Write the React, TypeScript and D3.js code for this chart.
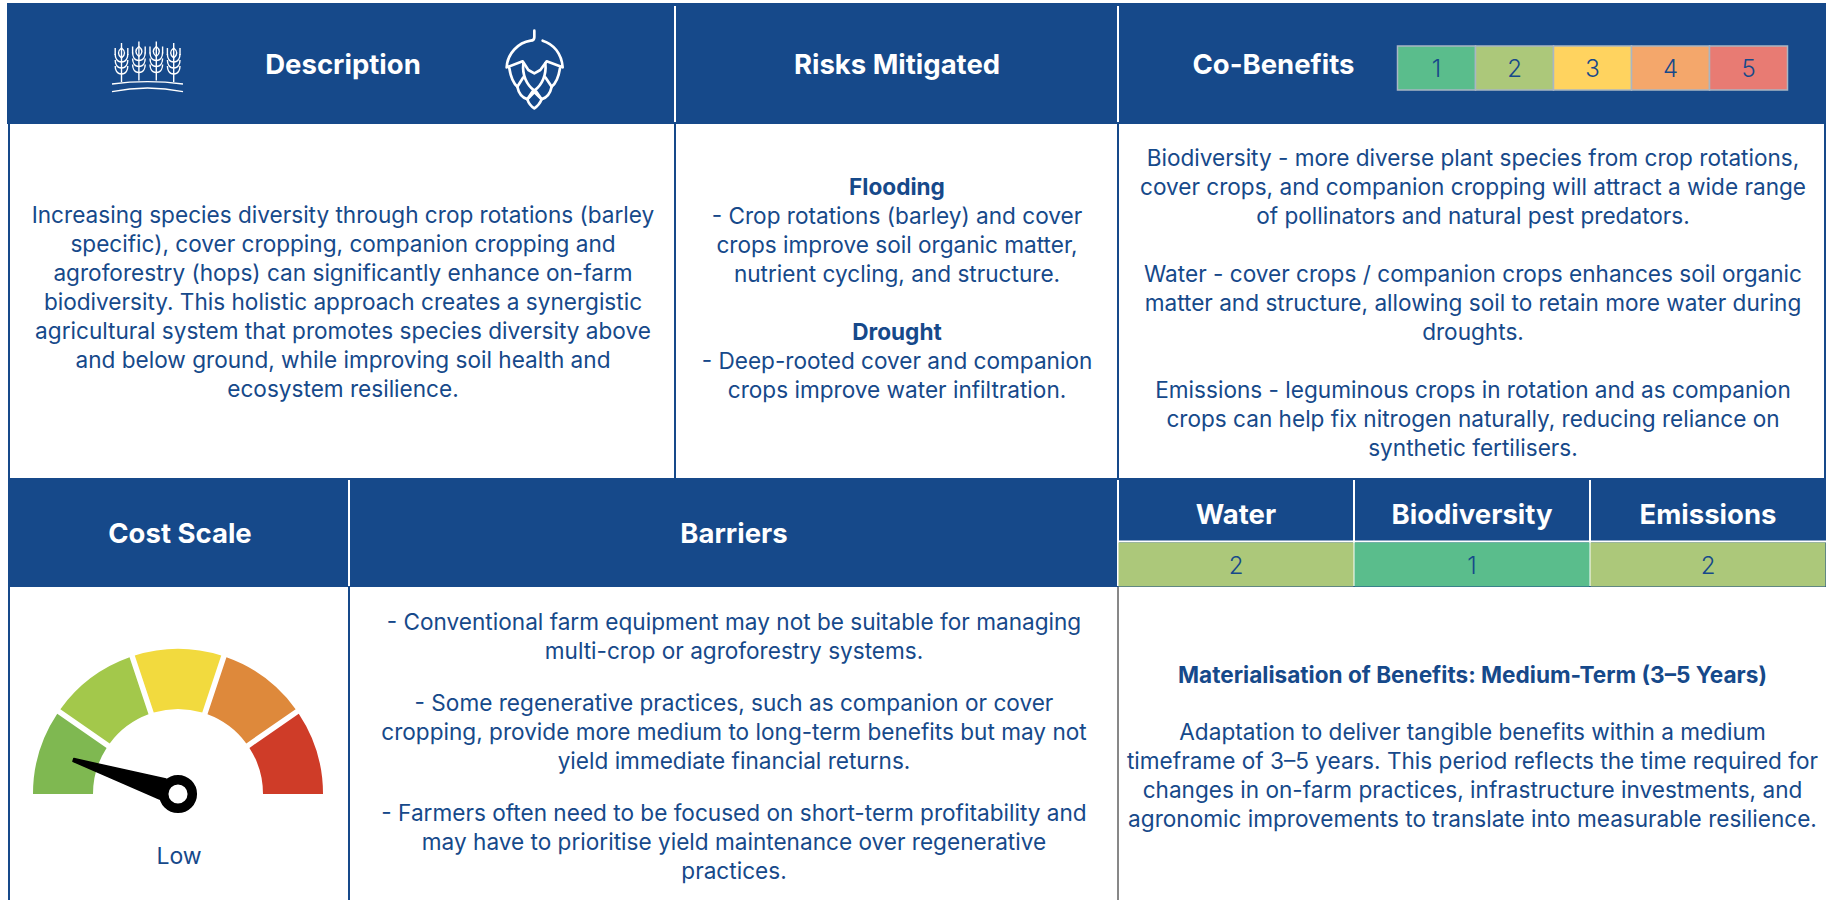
import React from 'react';
import * as d3 from 'd3';

const NAVY = '#16498a';
const FONT = 'Inter, sans-serif';
const BODY_SIZE = 22.6;

const scaleLabels = ['1', '2', '3', '4', '5'];
const scaleColours = ['#5abd8c', '#acc87a', '#ffd35f', '#f4a76b', '#e87b73'];

const coBenefitNames = ['Water', 'Biodiversity', 'Emissions'];
const coBenefitScores = [2, 1, 2];

const gaugeBands = [1, 1, 1, 1, 1];
const gaugeColours = ['#7fb851', '#a3c84b', '#f2da3e', '#de893b', '#cf3c28'];
const costValue = 0.5;
const costLabel = 'Low';

const descriptionLines = [
  'Increasing species diversity through crop rotations (barley',
  'specific), cover cropping, companion cropping and',
  'agroforestry (hops) can significantly enhance on-farm',
  'biodiversity. This holistic approach creates a synergistic',
  'agricultural system that promotes species diversity above',
  'and below ground, while improving soil health and',
  'ecosystem resilience.',
];

const risksLines = [
  ['Flooding', true],
  ['- Crop rotations (barley) and cover', false],
  ['crops improve soil organic matter,', false],
  ['nutrient cycling, and structure.', false],
  ['', false],
  ['Drought', true],
  ['- Deep-rooted cover and companion', false],
  ['crops improve water infiltration.', false],
] as [string, boolean][];

const benefitsLines = [
  'Biodiversity - more diverse plant species from crop rotations,',
  'cover crops, and companion cropping will attract a wide range',
  'of pollinators and natural pest predators.',
  '',
  'Water - cover crops / companion crops enhances soil organic',
  'matter and structure, allowing soil to retain more water during',
  'droughts.',
  '',
  'Emissions - leguminous crops in rotation and as companion',
  'crops can help fix nitrogen naturally, reducing reliance on',
  'synthetic fertilisers.',
];

const barrierLines = [
  '- Conventional farm equipment may not be suitable for managing',
  'multi-crop or agroforestry systems.',
  '',
  '- Some regenerative practices, such as companion or cover',
  'cropping, provide more medium to long-term benefits but may not',
  'yield immediate financial returns.',
  '',
  '- Farmers often need to be focused on short-term profitability and',
  'may have to prioritise yield maintenance over regenerative',
  'practices.',
];

const timeframeTitle = 'Materialisation of Benefits: Medium-Term (3–5 Years)';
const timeframeLines = [
  'Adaptation to deliver tangible benefits within a medium',
  'timeframe of 3–5 years. This period reflects the time required for',
  'changes in on-farm practices, infrastructure investments, and',
  'agronomic improvements to translate into measurable resilience.',
];

const Heading = ({ x, y, children }: any) => (
  <text x={x} y={y} textAnchor="middle" dominantBaseline="central" fill="#fff" fontSize={27.5} fontWeight={700}>
    {children}
  </text>
);

// blank lines can be shorter than a text line, the barrier text needs that
const Lines = ({ x, y, step, lines, blank = step }: { x: number; y: number; step: number; lines: string[]; blank?: number }) => {
  let pos = y;
  return (
    <g>
      {lines.map((l, i) => {
        if (l === '') {
          pos += blank;
          return null;
        }
        const t = (
          <text key={i} x={x} y={pos} textAnchor="middle" fill={NAVY} fontSize={BODY_SIZE}>
            {l}
          </text>
        );
        pos += step;
        return t;
      })}
    </g>
  );
};

const Wheat = ({ x, y }: { x: number; y: number }) => {
  const offsets = [0, 17.4, 34.8, 52.2];
  const lifts = [0, -1.5, -1.5, 0];
  return (
    <g transform={`translate(${x},${y})`} fill="none" stroke="#fff" strokeWidth={1.4}>
      {offsets.map((o, i) => (
        <g key={i} transform={`translate(${o},${lifts[i]})`}>
          <path d="M0,-14V25" />
          <path d="M0,-9C-4,-6 -4,-2 0,1C4,-2 4,-6 0,-9Z" />
          {[-3, 3, 9].map((d) => (
            <path key={d} d={`M0,${d + 8}C-5,${d + 8} -6.3,${d + 3} -6.3,${d}M0,${d + 8}C5,${d + 8} 6.3,${d + 3} 6.3,${d}`} />
          ))}
          <path d="M-6.3,-9V-2M6.3,-9V-2" />
        </g>
      ))}
      <path d="M-9.5,27Q26,22.4 61.5,27M-9.5,34.7Q26,27.3 61.5,34.7" strokeWidth={1.3} />
    </g>
  );
};

// drawn in the 3x crop's pixel units, hence the scale
const Hop = ({ x, y }: { x: number; y: number }) => (
  <g transform={`translate(${x},${y}) scale(${1 / 3})`} fill="none" stroke="#fff" strokeWidth={8} strokeLinejoin="round" strokeLinecap="round">
    <path d="M133,32V52Q133,62 122,62C85,68 52,100 50,142L98,124L115,150L133,160L151,150L170,124L218,142C215,100 190,72 158,62" />
    <path d="M58,145C62,170 70,190 82,200L100,172M210,145C206,170 198,190 185,200L166,172" />
    <path d="M100,130C96,165 110,195 133,212C156,195 170,165 166,130" />
    <path d="M82,200C86,220 95,232 112,238L128,214M185,200C181,220 172,232 155,238L138,214" />
    <path d="M112,238C116,250 125,260 133,265C141,260 150,250 155,238L133,216Z" />
  </g>
);

const Gauge = ({ cx, cy }: { cx: number; cy: number }) => {
  const gap = 5.5 / 145;
  // the outer bands run a little past the horizontal and get clipped flat at the base
  const pie = d3.pie<number>().sort(null).padAngle(gap).startAngle(-Math.PI / 2 - gap).endAngle(Math.PI / 2 + gap);
  const arc = d3.arc<d3.PieArcDatum<number>>().innerRadius(85).outerRadius(145).padRadius(145);
  const angle = d3.scaleLinear().domain([0, 5]).range([-90, 90]);
  const a = angle(costValue);
  return (
    <g transform={`translate(${cx},${cy})`}>
      <clipPath id="gauge-base">
        <rect x={-150} y={-150} width={300} height={150} />
      </clipPath>
      <g clipPath="url(#gauge-base)">
        {pie(gaugeBands).map((d, i) => (
          <path key={i} d={arc(d) ?? ''} fill={gaugeColours[i]} />
        ))}
      </g>
      <g transform={`rotate(${a})`}>
        <path d="M-1.5,-110L1.5,-110L10.5,-16L-10.5,-16Z" fill="#000" stroke="#000" strokeLinejoin="round" strokeWidth={1.5} />
      </g>
      <circle r={14.3} fill="#fff" stroke="#000" strokeWidth={9.5} />
    </g>
  );
};

export default function App() {
  const legend = d3.scaleBand<string>().domain(scaleLabels).range([1397.5, 1787.5]);
  const cols = d3.scaleBand<string>().domain(coBenefitNames).range([1118, 1826]);
  const colour = d3.scaleOrdinal<string, string>().domain(scaleLabels).range(scaleColours);

  return (
    <svg
      width={1826}
      height={900}
      viewBox="0 0 1826 900"
      style={{ position: 'fixed', left: 0, top: 0, display: 'block', background: '#fff' }}
      fontFamily={FONT}
    >
      {/* header bands */}
      <rect x={7} y={3} width={1819} height={121} fill={NAVY} />
      <rect x={8} y={478} width={1818} height={109} fill={NAVY} />

      {/* cell borders */}
      <g stroke={NAVY} strokeWidth={2} fill="none">
        <path d="M9,124V478M9,587V900" />
        <path d="M675,124V478M1118,124V478" />
        <path d="M349,587V900" />
        <path d="M1825,124V478" />
      </g>
      <path d="M1118,587V900" stroke="#111" strokeWidth={1} />
      <g stroke="#fff" strokeWidth={2}>
        <path d="M675,6V122M1118,6V122" />
        <path d="M349,480V586" />
        <path d="M1118,480V586" />
        <path d="M1354,480V586M1590,480V586" />
        <path d="M1118,541.5H1826" />
      </g>

      <Wheat x={121.5} y={57} />
      <Heading x={343} y={64}>Description</Heading>
      <Hop x={490} y={20} />
      <Heading x={897} y={64}>Risks Mitigated</Heading>
      <Heading x={1273.5} y={64}>Co-Benefits</Heading>

      {/* legend */}
      {scaleLabels.map((s) => (
        <g key={s}>
          <rect x={legend(s)} y={46} width={legend.bandwidth()} height={44} fill={colour(s)} stroke="#a9b6c4" strokeWidth={1.5} />
          <text x={legend(s)! + legend.bandwidth() / 2} y={68} textAnchor="middle" dominantBaseline="central" fill={NAVY} fontSize={24} fontWeight={300}>
            {s}
          </text>
        </g>
      ))}

      <Lines x={343} y={223} step={29} lines={descriptionLines} />

      <g>
        {risksLines.map(([l, bold], i) => (
          <text key={i} x={897} y={195 + i * 29} textAnchor="middle" fill={NAVY} fontSize={BODY_SIZE} fontWeight={bold ? 700 : 400}>
            {l}
          </text>
        ))}
      </g>

      <Lines x={1473} y={166} step={29} lines={benefitsLines} />

      <Heading x={180} y={533}>Cost Scale</Heading>
      <Heading x={734} y={533}>Barriers</Heading>

      {coBenefitNames.map((n, i) => (
        <g key={n}>
          <Heading x={cols(n)! + cols.bandwidth() / 2} y={514}>{n}</Heading>
          <rect x={cols(n)! + 0.5} y={542.5} width={cols.bandwidth() - 1} height={44} fill={colour(String(coBenefitScores[i]))} />
          <text x={cols(n)! + cols.bandwidth() / 2} y={565} textAnchor="middle" dominantBaseline="central" fill={NAVY} fontSize={24} fontWeight={300}>
            {coBenefitScores[i]}
          </text>
        </g>
      ))}

      <Gauge cx={178} cy={794} />
      <text x={179} y={864} textAnchor="middle" fill={NAVY} fontSize={23}>{costLabel}</text>

      <Lines x={734} y={629.5} step={29} blank={23} lines={barrierLines} />

      <text x={1472.5} y={683} textAnchor="middle" fill={NAVY} fontSize={BODY_SIZE} fontWeight={700}>{timeframeTitle}</text>
      <Lines x={1472.5} y={740} step={29} lines={timeframeLines} />
    </svg>
  );
}
